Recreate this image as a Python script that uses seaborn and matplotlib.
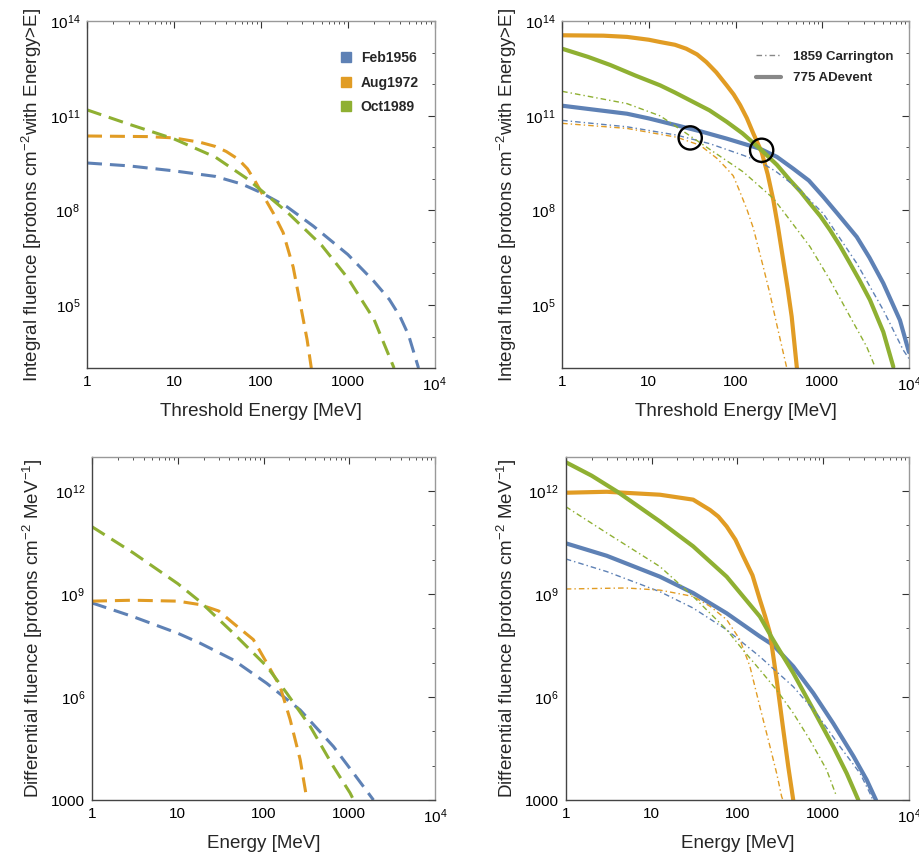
import numpy as np
import pandas as pd
import matplotlib
matplotlib.use("Agg")
import matplotlib.pyplot as plt
from matplotlib.lines import Line2D
from matplotlib.ticker import FixedLocator, LogLocator, NullFormatter
import seaborn as sns

# colours of the three historical events
c_feb = "#5E81B5"
c_aug = "#E19C24"
c_oct = "#8FB032"

# ---- top left: integral fluence, historical events (dashed)
feb_int_E = [1, 3, 10, 30, 60, 100, 200, 400, 1000, 2000, 3000, 4000, 5000, 6500]
feb_int_F = [3.2e9, 2.6e9, 1.8e9, 1.2e9, 6.9e8, 3.7e8, 1.3e8, 3.2e7, 4.0e6, 5.6e5, 1.5e5, 4.2e4, 1.1e4, 1.0e3]
aug_int_E = [1, 5, 10, 20, 30, 40, 55, 70, 85, 100, 140, 180, 235, 290, 340, 380]
aug_int_F = [2.3e10, 2.2e10, 2.0e10, 1.45e10, 1.07e10, 7.4e9, 4.2e9, 2.1e9, 8.9e8, 4.0e8,
             7.9e7, 2.0e7, 1.6e6, 7.9e4, 7.9e3, 1.0e3]
oct_int_E = [1, 3, 10, 30, 70, 115, 200, 500, 1000, 2000, 3400]
oct_int_F = [1.55e11, 5.5e10, 1.86e10, 4.9e9, 1.0e9, 3.2e8, 8.9e7, 7.8e6, 7.1e5, 3.5e4, 1.0e3]

# ---- top right: integral fluence, 775 AD (solid) and Carrington (dash-dot)
ad_feb_int_E = [1, 5.6, 10, 21, 40, 79, 191, 300, 464, 700, 1030, 1500, 2500, 3500, 5060, 7870, 10000]
ad_feb_int_F = [2.1e11, 1.17e11, 8.3e10, 5.0e10, 3.2e10, 1.9e10, 9.1e9, 5.0e9, 2.1e9, 8.9e8,
                2.7e8, 7.9e7, 1.45e7, 3.2e6, 4.9e5, 3.3e4, 3.2e3]
ad_aug_int_E = [1, 3, 5.6, 10, 13.5, 20, 27, 36, 46, 60, 79, 95, 113, 135, 160, 200, 235,
                273, 310, 355, 400, 444, 510]
ad_aug_int_F = [3.6e13, 3.5e13, 3.2e13, 2.6e13, 2.2e13, 1.8e13, 1.35e13, 8.9e12, 5.1e12, 2.4e12,
                9.3e11, 4.8e11, 2.2e11, 8.5e10, 2.8e10, 7.1e9, 1.4e9, 2.1e8, 2.8e7, 2.6e6,
                3.2e5, 4.3e4, 1.0e3]
ad_oct_int_E = [1, 2, 3.6, 7, 13.5, 20, 32.6, 50, 79, 120, 191, 300, 425, 560, 722, 950, 1228,
                1600, 2090, 2700, 3550, 5060, 6600]
ad_oct_int_F = [1.35e13, 7.4e12, 4.1e12, 1.9e12, 9.3e11, 5.5e11, 2.75e11, 1.5e11, 6.5e10, 2.8e10,
                9.1e9, 2.8e9, 9.1e8, 4.0e8, 1.66e8, 6.6e7, 2.4e7, 7.6e6, 2.1e6, 6.0e5, 1.45e5,
                1.4e4, 1.1e3]

car_feb_int_E = [1, 5.6, 21, 51, 123, 191, 298, 554, 1030, 2500, 5060, 8600, 10000]
car_feb_int_F = [7.2e10, 4.5e10, 2.45e10, 1.3e10, 5.6e9, 3.5e9, 1.66e9, 4.4e8, 7.9e7, 2.1e6, 6.9e4, 3.7e3, 2.0e3]
car_aug_int_E = [1, 5.6, 21, 39, 61, 75, 94, 110, 135, 160, 209, 250, 298, 390]
car_aug_int_F = [5.8e10, 4.0e10, 2.1e10, 1.17e10, 4.5e9, 2.5e9, 1.26e9, 4.5e8, 1.1e8, 2.8e7,
                 1.6e6, 2.2e5, 2.5e4, 1.0e3]
car_oct_int_E = [1, 5.6, 13.5, 27, 51, 123, 273, 425, 722, 1228, 2090, 3250, 4060]
car_oct_int_F = [6.0e11, 2.45e11, 1.0e11, 2.8e10, 8.5e9, 1.66e9, 2.4e8, 4.9e7, 7.1e6, 6.2e5, 4.3e4, 4.8e3, 1.1e3]

# circled crossing points
circle_E = [30, 200]
circle_F = [2.0e10, 8.1e9]

# ---- bottom left: differential fluence, historical events
feb_diff_E = [1, 3, 10, 18.2, 44.5, 109, 267, 653, 1120, 1910]
feb_diff_F = [5.5e8, 2.2e8, 7.2e7, 3.7e7, 1.2e7, 2.5e6, 4.2e5, 3.6e4, 6.0e3, 1.0e3]
aug_diff_E = [1, 3, 10, 18.2, 30, 44.5, 76, 109, 156, 204, 267, 306, 320]
aug_diff_F = [6.2e8, 6.6e8, 6.2e8, 4.9e8, 3.2e8, 1.4e8, 4.7e7, 9.8e6, 2.0e6, 2.2e5, 1.5e4, 2.0e3, 1.0e3]
oct_diff_E = [1, 3, 10, 18.2, 44.5, 109, 186, 349, 653, 1020, 1120]
oct_diff_F = [9.1e10, 1.6e10, 2.0e9, 6.0e8, 7.2e7, 7.8e6, 1.3e6, 1.4e5, 9.3e3, 1.6e3, 1.0e3]

# ---- bottom right: differential fluence, 775 AD and Carrington
ad_feb_diff_E = [1, 3, 12.5, 30.5, 75, 183, 260, 448, 767, 1312, 2250, 3210, 4130]
ad_feb_diff_F = [3.0e10, 1.3e10, 3.2e9, 1.07e9, 2.75e8, 5.8e7, 3.3e7, 7.8e6, 1.3e6, 1.7e5, 1.9e4, 3.9e3, 1.0e3]
ad_aug_diff_E = [1, 3, 12.5, 30.5, 48, 60, 75, 95, 117, 150, 183, 210, 240, 287, 343, 392, 448]
ad_aug_diff_F = [8.9e11, 9.5e11, 7.8e11, 5.6e11, 2.8e11, 1.8e11, 9.3e10, 3.8e10, 1.26e10, 3.5e9,
                 6.8e8, 2.3e8, 7.2e7, 3.2e6, 1.1e5, 9.3e3, 1.0e3]
ad_oct_diff_E = [1, 2, 4, 12.5, 30.5, 75, 183, 260, 448, 767, 1312, 1880, 2570]
ad_oct_diff_F = [6.9e12, 2.8e12, 9.5e11, 1.3e11, 2.45e10, 3.2e9, 2.2e8, 4.7e7, 5.0e6, 4.3e5, 3.6e4, 6.0e3, 1.0e3]

car_feb_diff_E = [1, 3, 12.5, 30.5, 75, 183, 448, 830, 1570, 2690, 3520, 3800]
car_feb_diff_F = [1.05e10, 4.5e9, 1.17e9, 3.9e8, 9.1e7, 1.5e7, 2.0e6, 3.4e5, 3.6e4, 6.0e3, 1.55e3, 1.0e3]
car_aug_diff_E = [1, 5, 12.5, 30.5, 48, 75, 107, 140, 183, 240, 287, 328, 340]
car_aug_diff_F = [1.4e9, 1.5e9, 1.3e9, 8.5e8, 4.4e8, 1.8e8, 4.7e7, 7.8e6, 5.2e5, 3.6e4, 6.0e3, 1.26e3, 1.0e3]
car_oct_diff_E = [1, 3, 12.5, 30.5, 75, 117, 183, 287, 448, 702, 1097, 1435]
car_oct_diff_F = [3.5e11, 6.0e10, 6.3e9, 8.5e8, 9.1e7, 2.3e7, 6.2e6, 1.6e6, 3.4e5, 5.6e4, 7.6e3, 1.26e3]

events = ["Feb1956", "Aug1972", "Oct1989"]
x_ticks = [1, 10, 100, 1000, 1e4]
x_ticklabels = ["1", "10", "100", "1000", "$10^{4}$"]
int_ticks = [1e5, 1e8, 1e11, 1e14]
int_ticklabels = ["$10^{5}$", "$10^{8}$", "$10^{11}$", "$10^{14}$"]
diff_ticks = [1e3, 1e6, 1e9, 1e12]
diff_ticklabels = ["1000", "$10^{6}$", "$10^{9}$", "$10^{12}$"]

sns.set_style("white")
plt.rcParams["font.family"] = ["Liberation Sans", "DejaVu Sans"]
plt.rcParams["mathtext.fontset"] = "custom"
plt.rcParams["mathtext.rm"] = "Liberation Sans"
plt.rcParams["mathtext.it"] = "Liberation Sans:italic"
plt.rcParams["mathtext.bf"] = "Liberation Sans:bold"
plt.rcParams["mathtext.default"] = "regular"

fig = plt.figure(figsize=(9.2, 8.52), dpi=100)
ax_tl = fig.add_axes([0.0946, 0.568, 0.378, 0.407])
ax_tr = fig.add_axes([0.611, 0.568, 0.377, 0.407])
ax_bl = fig.add_axes([0.100, 0.061, 0.373, 0.403])
ax_br = fig.add_axes([0.615, 0.061, 0.373, 0.403])

dashed = (0, (4.9, 2.6))
dashdot = (0, (4.0, 2.2, 1.0, 2.2))


def draw(ax, E, F, color, style):
    if style == "dashed":
        sns.lineplot(x=E, y=F, ax=ax, color=color, linewidth=2.2,
                     linestyle=dashed, estimator=None, sort=False)
    elif style == "solid":
        sns.lineplot(x=E, y=F, ax=ax, color=color, linewidth=3.0,
                     estimator=None, sort=False)
    else:
        sns.lineplot(x=E, y=F, ax=ax, color=color, linewidth=1.0,
                     linestyle=dashdot, estimator=None, sort=False)


def style_axes(ax, yticks, yticklabels, ylo, yhi, ylabel, xlabel):
    ax.set_xscale("log")
    ax.set_yscale("log")
    ax.set_xlim(1, 1e4)
    ax.set_ylim(ylo, yhi)
    ax.xaxis.set_major_locator(FixedLocator(x_ticks))
    ax.set_xticklabels(x_ticklabels)
    ax.xaxis.set_minor_locator(LogLocator(base=10, subs=np.arange(2, 10), numticks=20))
    ax.xaxis.set_minor_formatter(NullFormatter())
    ax.yaxis.set_major_locator(FixedLocator(yticks))
    ax.set_yticklabels(yticklabels)
    ax.yaxis.set_minor_locator(LogLocator(base=10, subs=(1.0,), numticks=30))
    ax.yaxis.set_minor_formatter(NullFormatter())
    ax.tick_params(which="both", direction="in", top=True, right=True,
                   colors="#333333", labelcolor="black", labelsize=11, pad=5)
    ax.tick_params(which="major", length=5, width=0.8)
    ax.tick_params(which="minor", length=2.5, width=0.6)
    for side in ["left", "bottom"]:
        ax.spines[side].set_color("#444444")
        ax.spines[side].set_linewidth(1.0)
    for side in ["top", "right"]:
        ax.spines[side].set_color("#999999")
        ax.spines[side].set_linewidth(1.0)
    ax.set_ylabel(ylabel, fontsize=13.5, labelpad=4)
    ax.set_xlabel(xlabel, fontsize=13.5, labelpad=7)


int_label = "Integral fluence [protons cm$^{-2}$with Energy>E]"
diff_label = "Differential fluence [protons cm$^{-2}$ MeV$^{-1}$]"

# top left
draw(ax_tl, feb_int_E, feb_int_F, c_feb, "dashed")
draw(ax_tl, aug_int_E, aug_int_F, c_aug, "dashed")
draw(ax_tl, oct_int_E, oct_int_F, c_oct, "dashed")
style_axes(ax_tl, int_ticks, int_ticklabels, 1e3, 1e14, int_label, "Threshold Energy [MeV]")
handles = [Line2D([], [], marker="s", linestyle="none", markersize=7.5,
                  markerfacecolor=c, markeredgecolor=c) for c in [c_feb, c_aug, c_oct]]
ax_tl.legend(handles, events, loc="upper right", bbox_to_anchor=(0.99, 0.95),
             frameon=False, prop={"weight": "bold", "size": 10},
             handlelength=0.8, handletextpad=0.7, labelspacing=0.75)

# top right
draw(ax_tr, ad_feb_int_E, ad_feb_int_F, c_feb, "solid")
draw(ax_tr, ad_aug_int_E, ad_aug_int_F, c_aug, "solid")
draw(ax_tr, ad_oct_int_E, ad_oct_int_F, c_oct, "solid")
draw(ax_tr, car_feb_int_E, car_feb_int_F, c_feb, "dashdot")
draw(ax_tr, car_aug_int_E, car_aug_int_F, c_aug, "dashdot")
draw(ax_tr, car_oct_int_E, car_oct_int_F, c_oct, "dashdot")
sns.scatterplot(x=circle_E, y=circle_F, ax=ax_tr, s=280, marker="o",
                facecolor="none", edgecolor="black", linewidth=1.7, zorder=5)
style_axes(ax_tr, int_ticks, int_ticklabels, 1e3, 1e14, int_label, "Threshold Energy [MeV]")
handles = [Line2D([], [], color="#888888", linewidth=1.0, linestyle=dashdot),
           Line2D([], [], color="#888888", linewidth=3.0)]
ax_tr.legend(handles, ["1859 Carrington", "775 ADevent"], loc="upper right",
             bbox_to_anchor=(0.99, 0.95), frameon=False,
             prop={"weight": "bold", "size": 9.5}, handlelength=1.9,
             handletextpad=0.9, labelspacing=0.7)

# bottom left
draw(ax_bl, feb_diff_E, feb_diff_F, c_feb, "dashed")
draw(ax_bl, aug_diff_E, aug_diff_F, c_aug, "dashed")
draw(ax_bl, oct_diff_E, oct_diff_F, c_oct, "dashed")
style_axes(ax_bl, diff_ticks, diff_ticklabels, 1e3, 1e13, diff_label, "Energy [MeV]")

# bottom right
draw(ax_br, ad_feb_diff_E, ad_feb_diff_F, c_feb, "solid")
draw(ax_br, ad_aug_diff_E, ad_aug_diff_F, c_aug, "solid")
draw(ax_br, ad_oct_diff_E, ad_oct_diff_F, c_oct, "solid")
draw(ax_br, car_feb_diff_E, car_feb_diff_F, c_feb, "dashdot")
draw(ax_br, car_aug_diff_E, car_aug_diff_F, c_aug, "dashdot")
draw(ax_br, car_oct_diff_E, car_oct_diff_F, c_oct, "dashdot")
style_axes(ax_br, diff_ticks, diff_ticklabels, 1e3, 1e13, diff_label, "Energy [MeV]")

fig.savefig("out.png", dpi=100)
